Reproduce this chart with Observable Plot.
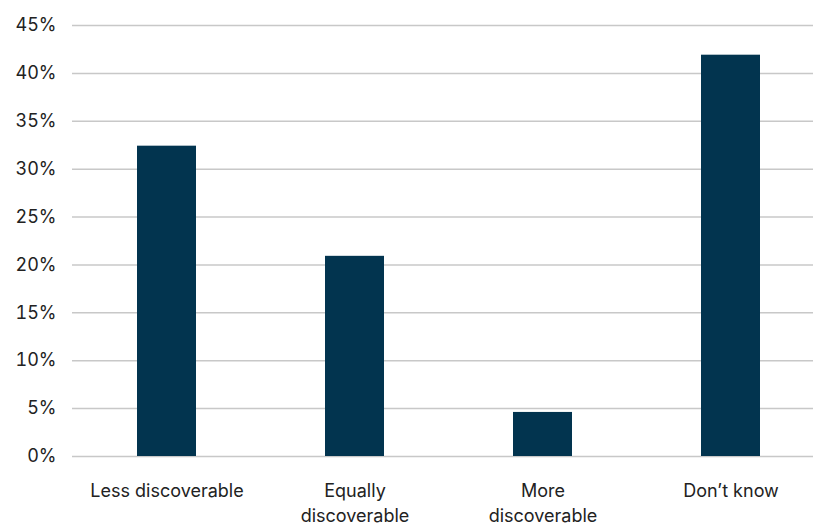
<!DOCTYPE html>
<html>
<head>
<meta charset="utf-8">
<script src="https://cdn.jsdelivr.net/npm/d3@7"></script>
<script src="https://cdn.jsdelivr.net/npm/@observablehq/plot@0.6"></script>
<style>
  html, body { margin: 0; padding: 0; background: #fff; }
  svg { display: block; }
</style>
</head>
<body>
<div id="chart"></div>
<script>
const categories = ["Less discoverable", "Equally discoverable", "More discoverable", "Don’t know"];
const values = [32.4, 20.9, 4.6, 41.9];
const yTicks = [0, 5, 10, 15, 20, 25, 30, 35, 40, 45];
const labelLines = {
  "Less discoverable": "Less discoverable",
  "Equally discoverable": "Equally\ndiscoverable",
  "More discoverable": "More\ndiscoverable",
  "Don’t know": "Don’t know"
};

const data = categories.map((c, i) => ({category: c, value: values[i]}));

const chart = Plot.plot({
  width: 813,
  height: 525,
  marginTop: 25,
  marginBottom: 69,
  marginLeft: 72,
  marginRight: 0,
  style: {fontFamily: "Inter, 'Liberation Sans', sans-serif", fontSize: "18px", color: "#222", background: "#fff"},
  x: {domain: categories, range: [71, 826], paddingInner: 0.687, paddingOuter: 0.3435, align: 0.5, label: null},
  y: {domain: [0, 45], label: null},
  marks: [
    Plot.ruleY(yTicks, {stroke: "#c8c8c8", strokeWidth: 1.5}),
    Plot.barY(data, {x: "category", y: "value", fill: "#02344f"}),
    Plot.axisY({ticks: yTicks, tickSize: 0, tickPadding: 16, tickFormat: d => d + "%", fontSize: 18}),
    Plot.axisX({tickSize: 0, tickPadding: 22, tickFormat: d => labelLines[d], lineHeight: 1.42, fontSize: 18})
  ]
});
document.getElementById("chart").appendChild(chart);
</script>
</body>
</html>
